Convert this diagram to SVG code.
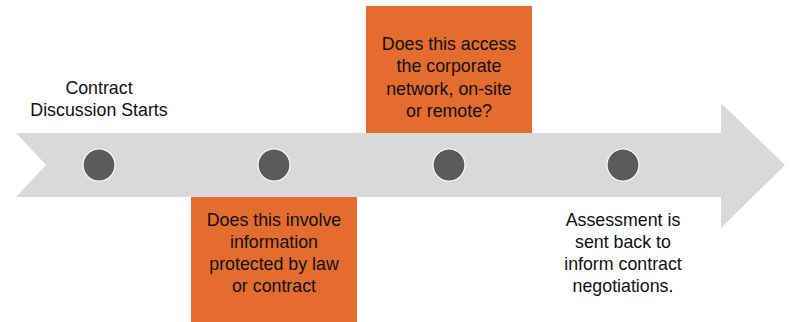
<svg xmlns="http://www.w3.org/2000/svg" width="791" height="322" viewBox="0 0 791 322">
<style>
.t{font-family:"Liberation Sans",Arial,sans-serif;font-size:17.8px;fill:#111;text-anchor:middle}
.box{fill:#E46C2E}
.dot{fill:#5A5B5D;stroke:#fff;stroke-width:1.2}
</style>
<rect width="791" height="322" fill="#fff"/>
<g id="arrow">
<path d="M16,133 H721 V103 L785,165 L721,228 V197 H16 L46,165 Z" fill="#D9D9D9"/>
</g>
<g id="node-start">
<circle class="dot" cx="99" cy="165" r="16"/>
<text class="t" x="99" y="94">Contract</text>
<text class="t" x="99" y="116">Discussion Starts</text>
</g>
<g id="node-info">
<circle class="dot" cx="274" cy="165" r="16"/>
<rect class="box" x="191" y="197" width="166" height="125"/>
<text class="t" x="274" y="226">Does this involve</text>
<text class="t" x="274" y="248">information</text>
<text class="t" x="274" y="270">protected by law</text>
<text class="t" x="274" y="292">or contract</text>
</g>
<g id="node-network">
<circle class="dot" cx="449" cy="165" r="16"/>
<rect class="box" x="366" y="6" width="166" height="127"/>
<text class="t" x="449" y="50">Does this access</text>
<text class="t" x="449" y="72">the corporate</text>
<text class="t" x="449" y="95">network, on-site</text>
<text class="t" x="449" y="117">or remote?</text>
</g>
<g id="node-assessment">
<circle class="dot" cx="623" cy="165" r="16"/>
<text class="t" x="623" y="226">Assessment is</text>
<text class="t" x="623" y="248">sent back to</text>
<text class="t" x="623" y="270">inform contract</text>
<text class="t" x="623" y="292">negotiations.</text>
</g>
<g id="connectors"></g>
</svg>
